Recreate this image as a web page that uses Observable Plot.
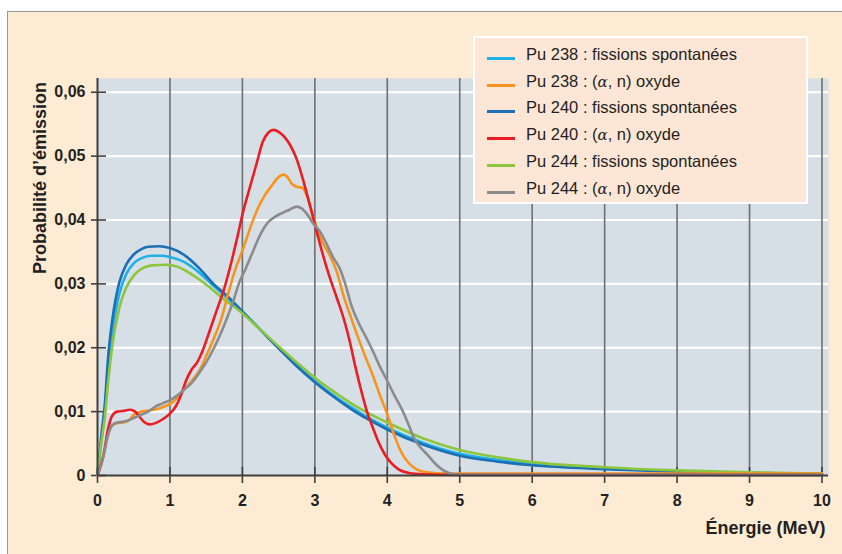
<!DOCTYPE html>
<html>
<head>
<meta charset="utf-8">
<script src="https://cdn.jsdelivr.net/npm/d3@7"></script>
<script src="https://cdn.jsdelivr.net/npm/@observablehq/plot@0.6"></script>
<style>
  html, body { margin: 0; padding: 0; background: #ffffff; }
  #wrap { position: relative; width: 842px; height: 554px; overflow: hidden; font-family: "Liberation Sans", Arial, sans-serif; }
  #panel { position: absolute; left: 7px; top: 11px; right: 0; bottom: 0; background: #fdebd3;
           border-left: 1.5px solid #8f989d; border-top: 1.5px solid #8f989d; }
  #chart { position: absolute; left: 0; top: 0; }
  #legend { position: absolute; left: 473px; top: 36px; width: 331px; height: 164px; background: #fde6d6;
            border: 2.5px solid #ffffff; }
  .row { position: absolute; left: 0; height: 20px; display: flex; align-items: center; }
  .sw { position: absolute; left: 12px; width: 28px; height: 3px; }
  .lab { position: absolute; left: 51px; white-space: nowrap; font-size: 16.5px; color: #231f20; }
  .alpha { font-family: "DejaVu Serif", "Liberation Serif", serif; font-style: italic; font-size: 15px; }
</style>
</head>
<body>
<div id="wrap">
  <div id="panel"></div>
  <div id="chart"></div>
  <div id="legend"></div>
</div>
<script>
// ---- Data ----
const seriesNames = [
  "Pu 238 : fissions spontanées",
  "Pu 238 : (α, n) oxyde",
  "Pu 240 : fissions spontanées",
  "Pu 240 : (α, n) oxyde",
  "Pu 244 : fissions spontanées",
  "Pu 244 : (α, n) oxyde"
];
const seriesColors = ["#1eb1e7", "#f7941e", "#1c6fb4", "#ec1c24", "#8cc63e", "#8b8b8c"];

const pu238Fission = [[0,0],[0.05,0.005],[0.1,0.010],[0.15,0.017],[0.2,0.022],[0.3,0.0284],[0.4,0.0316],[0.5,0.0332],[0.6,0.0340],[0.75,0.0344],[0.9,0.0344],[1.0,0.0342],[1.2,0.0334],[1.4,0.0318],[1.6,0.0297],[1.8,0.0277],[2.0,0.0256],[2.25,0.0228],[2.5,0.0200],[2.75,0.0173],[3.0,0.0148],[3.25,0.0126],[3.5,0.0107],[3.75,0.0090],[4.0,0.0075],[4.5,0.0051],[5.0,0.0034],[5.5,0.0025],[6.0,0.0018],[7.0,0.0011],[8.0,0.0007],[9.0,0.0004],[10.0,0.0003]];
const pu240Fission = [[0,0],[0.05,0.006],[0.1,0.011],[0.15,0.019],[0.2,0.024],[0.3,0.0302],[0.4,0.0331],[0.5,0.0346],[0.6,0.0354],[0.7,0.0358],[0.85,0.0359],[1.0,0.0356],[1.2,0.0345],[1.4,0.0325],[1.6,0.0300],[1.8,0.0280],[2.0,0.0257],[2.25,0.0228],[2.5,0.0199],[2.75,0.0171],[3.0,0.0146],[3.25,0.0124],[3.5,0.0104],[3.75,0.0087],[4.0,0.0072],[4.5,0.0048],[5.0,0.0031],[5.5,0.0022],[6.0,0.0016],[7.0,0.0010],[8.0,0.0006],[9.0,0.0004],[10.0,0.0002]];
const pu244Fission = [[0,0],[0.05,0.005],[0.1,0.009],[0.15,0.015],[0.2,0.020],[0.3,0.0262],[0.4,0.0295],[0.5,0.0313],[0.6,0.0323],[0.75,0.0329],[0.95,0.0330],[1.1,0.0327],[1.3,0.0315],[1.5,0.0299],[1.7,0.0280],[2.0,0.0254],[2.25,0.0228],[2.5,0.0202],[2.75,0.0177],[3.0,0.0153],[3.25,0.0132],[3.5,0.0113],[3.75,0.0097],[4.0,0.0083],[4.5,0.0058],[5.0,0.0040],[5.5,0.0029],[6.0,0.0021],[7.0,0.0013],[8.0,0.0008],[9.0,0.0005],[10.0,0.0003]];
const pu238AlphaN = [[0,0],[0.08,0.003],[0.15,0.0065],[0.2,0.0078],[0.27,0.0082],[0.35,0.0083],[0.42,0.0085],[0.5,0.0095],[0.6,0.0100],[0.73,0.0102],[0.85,0.0105],[1.0,0.0112],[1.1,0.0121],[1.2,0.0135],[1.3,0.0148],[1.4,0.0163],[1.5,0.0187],[1.6,0.0213],[1.7,0.0242],[1.8,0.0283],[1.9,0.0322],[2.0,0.0352],[2.1,0.0385],[2.2,0.0415],[2.3,0.0437],[2.4,0.0453],[2.48,0.0465],[2.57,0.0471],[2.63,0.0466],[2.68,0.0457],[2.75,0.0452],[2.83,0.0450],[2.9,0.0435],[2.98,0.0405],[3.05,0.0380],[3.12,0.0362],[3.2,0.0346],[3.3,0.0320],[3.4,0.0280],[3.5,0.0247],[3.6,0.0215],[3.7,0.0185],[3.8,0.0157],[3.9,0.0125],[4.0,0.0096],[4.1,0.0062],[4.2,0.0035],[4.3,0.0019],[4.4,0.0010],[4.55,0.0005],[4.8,0.0003],[10.0,0.0003]];
const pu240AlphaN = [[0,0],[0.08,0.003],[0.15,0.0075],[0.2,0.0093],[0.27,0.0100],[0.35,0.0101],[0.45,0.0103],[0.52,0.0100],[0.58,0.0092],[0.64,0.0084],[0.72,0.0080],[0.8,0.0082],[0.9,0.0088],[1.0,0.0097],[1.08,0.0108],[1.15,0.0125],[1.22,0.0148],[1.3,0.0166],[1.38,0.0178],[1.45,0.0195],[1.55,0.0227],[1.65,0.0260],[1.75,0.0293],[1.85,0.0335],[1.94,0.0378],[2.01,0.0413],[2.1,0.0450],[2.2,0.0490],[2.28,0.0522],[2.36,0.0537],[2.43,0.0541],[2.5,0.0538],[2.58,0.0530],[2.66,0.0517],[2.74,0.0498],[2.84,0.0462],[2.92,0.0428],[3.0,0.0393],[3.1,0.0350],[3.2,0.0312],[3.3,0.0279],[3.4,0.0245],[3.48,0.0211],[3.56,0.0170],[3.64,0.0133],[3.72,0.0100],[3.8,0.0075],[3.88,0.0052],[3.96,0.0034],[4.05,0.0020],[4.15,0.0010],[4.3,0.0004],[4.5,0.0002],[5.0,0.0001],[10.0,0.0001]];
const pu244AlphaN = [[0,0],[0.08,0.003],[0.15,0.0065],[0.2,0.0078],[0.27,0.0083],[0.35,0.0084],[0.42,0.0086],[0.5,0.0090],[0.6,0.0095],[0.7,0.0100],[0.8,0.0108],[0.9,0.0113],[1.0,0.0118],[1.1,0.0125],[1.2,0.0135],[1.3,0.0145],[1.4,0.0160],[1.5,0.0177],[1.6,0.0198],[1.7,0.0222],[1.8,0.0250],[1.88,0.0275],[1.95,0.0300],[2.05,0.0325],[2.15,0.0352],[2.25,0.0378],[2.35,0.0396],[2.45,0.0405],[2.55,0.0411],[2.65,0.0416],[2.75,0.0421],[2.82,0.0418],[2.9,0.0408],[2.98,0.0394],[3.07,0.0382],[3.16,0.0363],[3.25,0.0342],[3.34,0.0325],[3.42,0.0300],[3.5,0.0268],[3.6,0.0240],[3.7,0.0218],[3.8,0.0195],[3.9,0.0170],[4.0,0.0148],[4.1,0.0125],[4.2,0.0104],[4.3,0.0078],[4.37,0.0058],[4.45,0.0045],[4.55,0.0033],[4.65,0.0020],[4.75,0.0010],[4.85,0.0004],[5.0,0.0001],[10.0,0.0001]];

const xTicks = [0,1,2,3,4,5,6,7,8,9,10];
const yTicks = [0,0.01,0.02,0.03,0.04,0.05,0.06];
const yTickLabels = ["0","0,01","0,02","0,03","0,04","0,05","0,06"];
const xTitle = "Énergie (MeV)";
const yTitle = "Probabilité d’émission";

// series drawing order: fission spectra first, then (alpha, n)
const seriesData = [pu238Fission, pu238AlphaN, pu240Fission, pu240AlphaN, pu244Fission, pu244AlphaN];
const drawOrder = [0, 2, 4, 1, 3, 5];

const rows = [];
seriesData.forEach((arr, i) => arr.forEach(([x, y]) => rows.push({x, y, series: seriesNames[i], idx: i})));

const font = "'Liberation Sans', Arial, sans-serif";
const axisColor = "#3f3f40";

const marks = [
  Plot.frame({fill: "#d7dfe6", stroke: "none"}),
  Plot.ruleY(yTicks.slice(1), {stroke: "#ffffff", strokeWidth: 2.2}),
  Plot.ruleX(xTicks.slice(1), {stroke: "#6e6f71", strokeWidth: 1.6}),
  // tick marks (crossing the axes)
  Plot.axisY(yTicks, {tickSize: 15, dx: 9, fill: "none", stroke: axisColor, strokeWidth: 1.6}),
  Plot.axisX(xTicks, {tickSize: 16, dy: -8, fill: "none", stroke: axisColor, strokeWidth: 1.6}),
  ...drawOrder.map(i => Plot.line(rows.filter(d => d.idx === i), {
    x: "x", y: "y", stroke: seriesColors[i], strokeWidth: 2.6, curve: "monotone-x"
  })),
  Plot.ruleY([0], {stroke: axisColor, strokeWidth: 2}),
  Plot.ruleX([0], {stroke: axisColor, strokeWidth: 2}),
  Plot.text(yTicks, {x: 0, y: d => d, text: (d, i) => yTickLabels[i], dx: -12, textAnchor: "end",
    fontWeight: "bold", fontSize: 16, fill: "#231f20", fontFamily: font}),
  Plot.text(xTicks, {x: d => d, y: 0, text: d => String(d), dy: 25,
    fontWeight: "bold", fontSize: 16, fill: "#231f20", fontFamily: font}),
  Plot.text([xTitle], {frameAnchor: "bottom-right", dx: -3, dy: 58, textAnchor: "end",
    fontWeight: "bold", fontSize: 18, fill: "#231f20", fontFamily: font}),
  Plot.text([yTitle], {frameAnchor: "left", rotate: -90, dx: -57, dy: -99,
    textAnchor: "middle", lineAnchor: "middle",
    fontWeight: "bold", fontSize: 18, fill: "#231f20", fontFamily: font})
];

const chart = Plot.plot({
  width: 842,
  height: 554,
  marginLeft: 97,
  marginRight: 14,
  marginTop: 78,
  marginBottom: 79,
  x: {domain: [0, 10.09], axis: null},
  y: {domain: [0, 0.06215], axis: null},
  style: {background: "transparent", overflow: "visible", fontFamily: font},
  marks
});
document.getElementById("chart").appendChild(chart);

// legend
const legend = document.getElementById("legend");
seriesNames.forEach((name, i) => {
  const row = document.createElement("div");
  row.className = "row";
  row.style.top = (7 + i * 26.7) + "px";
  row.style.width = "100%";
  const sw = document.createElement("div");
  sw.className = "sw";
  sw.style.background = seriesColors[i];
  sw.style.top = "12px";
  const lab = document.createElement("div");
  lab.className = "lab";
  lab.style.top = "0px";
  const parts = name.split("α");
  if (parts.length === 2) {
    lab.append(parts[0]);
    const a = document.createElement("span");
    a.className = "alpha";
    a.textContent = "α";
    lab.append(a);
    lab.append(parts[1]);
  } else {
    lab.textContent = name;
  }
  row.append(sw, lab);
  legend.append(row);
});
</script>
</body>
</html>
